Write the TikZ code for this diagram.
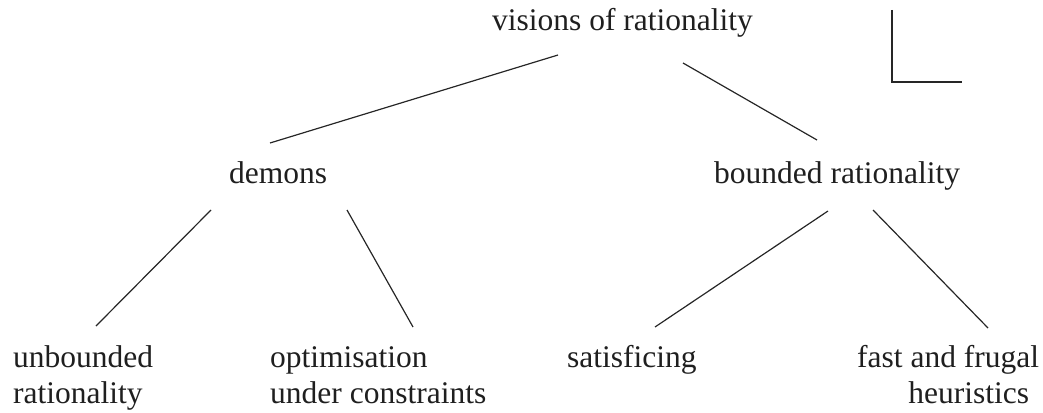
\documentclass[tikz,border=0pt]{standalone}
\usepackage{fontspec}
\setmainfont{Liberation Serif}
\begin{document}
\begin{tikzpicture}[x=1pt,y=-1pt,
  label/.style={inner sep=0pt,anchor=base west,text=black!88,
    font=\fontsize{31.5}{36}\selectfont},
  link/.style={draw=black!85,line width=1.2pt},
  corner/.style={draw=black!85,line width=1.8pt}]
  % canvas
  \useasboundingbox (0,0) rectangle (1043,412);

  % labels of the tree (two-line labels are placed by their last baseline)
  \node[label] (vis) at (492,31) {visions of rationality};
  \node[label] (dem) at (229,183) {demons};
  \node[label] (bnd) at (714,183) {bounded rationality};
  \node[label,align=left] (unb) at (13,403) {unbounded\\rationality};
  \node[label,align=left] (opt) at (270,403) {optimisation\\under constraints};
  \node[label] (sat) at (567,367) {satisficing};
  \node[label,align=right] (ff) at (857,403) {fast and frugal\\heuristics\hspace*{10pt}};

  % branches
  \draw[link] ([shift={(66,24)}]vis.base west) -- ([shift={(41,-40)}]dem.base west);
  \draw[link] ([shift={(191,32)}]vis.base west) -- ([shift={(103,-43)}]bnd.base west);
  \draw[link] ([shift={(-18,27)}]dem.base west) -- ([shift={(83,-77)}]unb.base west);
  \draw[link] ([shift={(118,27)}]dem.base west) -- ([shift={(143,-76)}]opt.base west);
  \draw[link] ([shift={(114,28)}]bnd.base west) -- ([shift={(88,-40)}]sat.base west);
  \draw[link] ([shift={(159,27)}]bnd.base west) -- ([shift={(131,-75)}]ff.base west);

  % corner mark
  \coordinate (ctop) at (892,10);
  \coordinate (cknee) at (892,82);
  \coordinate (cend) at (962,82);
  \draw[corner] (ctop) -- (cknee) -- (cend);
\end{tikzpicture}
\end{document}
